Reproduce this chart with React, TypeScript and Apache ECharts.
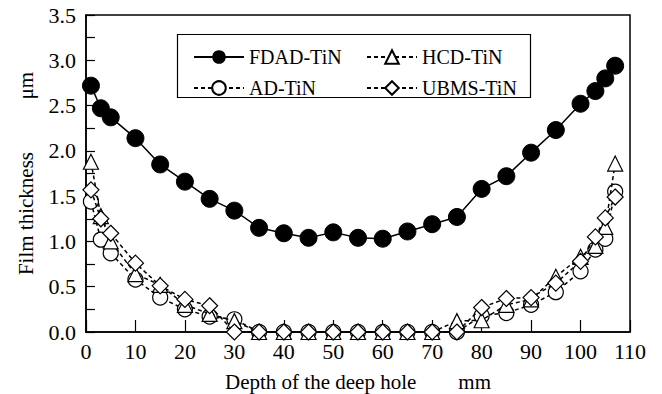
import React, { useEffect, useRef } from "react";
import * as echarts from "echarts";

const depth = [1, 3, 5, 10, 15, 20, 25, 30, 35, 40, 45, 50, 55, 60, 65, 70, 75, 80, 85, 90, 95, 100, 103, 105, 107];
const fdad = [2.72, 2.47, 2.37, 2.14, 1.85, 1.66, 1.47, 1.34, 1.15, 1.09, 1.04, 1.10, 1.04, 1.03, 1.11, 1.19, 1.27, 1.58, 1.72, 1.98, 2.23, 2.52, 2.66, 2.80, 2.94];
const ad = [1.44, 1.02, 0.87, 0.58, 0.38, 0.25, 0.17, 0.14, 0, 0, 0, 0, 0, 0, 0, 0, 0, 0.18, 0.21, 0.30, 0.44, 0.67, 0.91, 1.03, 1.55];
const hcd = [1.88, 1.28, 1.0, 0.64, 0.52, 0.30, 0.20, 0.12, 0, 0, 0, 0, 0, 0, 0, 0, 0.12, 0.13, 0.30, 0.36, 0.61, 0.83, 0.95, 1.16, 1.86];
const ubms = [1.57, 1.25, 1.09, 0.76, 0.51, 0.36, 0.29, 0, 0, 0, 0, 0, 0, 0, 0, 0, 0, 0.27, 0.37, 0.38, 0.54, 0.78, 1.05, 1.26, 1.49];
const seriesNames = ["FDAD-TiN", "AD-TiN", "HCD-TiN", "UBMS-TiN"];

const FONT = "'Liberation Serif', serif";

export default function App() {
  const ref = useRef<HTMLDivElement>(null);
  useEffect(() => {
    if (!ref.current) return;
    const chart = echarts.init(ref.current, null, { renderer: "svg" });
    const pair = (ys: number[]) => depth.map((x, i) => [x, ys[i]]);
    const dashed = { color: "#000", width: 1.5, type: [4, 3] as any };
    const openStyle = { color: "#fff", borderColor: "#000", borderWidth: 1.2 };
    const legendText = { fontFamily: FONT, fontSize: 20, color: "#000" };
    chart.setOption({
      animation: false,
      textStyle: { fontFamily: FONT },
      grid: {
        left: 86, right: 32, top: 15, bottom: 62,
        outerBoundsMode: "none",
        containLabel: false,
        show: true, borderColor: "#000", borderWidth: 1.5, backgroundColor: "transparent",
      },
      legend: [
        {
          data: [seriesNames[0], seriesNames[1]],
          orient: "vertical",
          left: 188,
          top: 42,
          itemWidth: 50,
          itemHeight: 17,
          itemGap: 11,
          textStyle: legendText,
        },
        {
          data: [seriesNames[2], seriesNames[3]],
          orient: "vertical",
          left: 361,
          top: 42,
          itemWidth: 50,
          itemHeight: 17,
          itemGap: 11,
          textStyle: legendText,
        },
      ],
      graphic: [
        { type: "rect", left: 175, top: 32, shape: { width: 353, height: 63 }, style: { fill: "none", stroke: "#000", lineWidth: 1.2 }, z: 10 },
      ],
      xAxis: {
        type: "value",
        min: 0,
        max: 110,
        interval: 10,
        name: "Depth of the deep hole        mm",
        nameLocation: "middle",
        nameGap: 39,
        nameMoveOverlap: false,
        nameTextStyle: { fontFamily: FONT, fontSize: 21, color: "#000" },
        axisLine: { lineStyle: { color: "#000", width: 1.5 } },
        axisTick: { inside: true, length: 12, lineStyle: { color: "#000", width: 1.2 } },
        axisLabel: { fontFamily: FONT, fontSize: 22, color: "#000", margin: 8 },
        splitLine: { show: false },
      },
      yAxis: {
        type: "value",
        min: 0,
        max: 3.5,
        interval: 0.5,
        name: "Film thickness          μm",
        nameLocation: "middle",
        nameGap: 50,
        nameMoveOverlap: false,
        nameTextStyle: { fontFamily: FONT, fontSize: 21, color: "#000" },
        axisLine: { show: true, lineStyle: { color: "#000", width: 1.5 } },
        axisTick: { inside: true, length: 9, lineStyle: { color: "#000", width: 1.2 } },
        minorTick: { show: true, splitNumber: 2, length: 9, lineStyle: { color: "#000", width: 1.2 } },
        axisLabel: { fontFamily: FONT, fontSize: 22, color: "#000", margin: 10, formatter: (v: number) => v.toFixed(1) },
        splitLine: { show: false },
      },
      series: [
        {
          name: seriesNames[0],
          type: "line",
          data: pair(fdad),
          symbol: "circle",
          symbolSize: 17,
          lineStyle: { color: "#000", width: 1.5 },
          itemStyle: { color: "#000", borderColor: "#000" },
          z: 5,
        },
        {
          name: seriesNames[1],
          type: "line",
          data: pair(ad),
          symbol: "circle",
          symbolSize: 15,
          lineStyle: dashed,
          itemStyle: openStyle,
          z: 2,
        },
        {
          name: seriesNames[2],
          type: "line",
          data: pair(hcd),
          symbol: "triangle",
          symbolSize: 15,
          lineStyle: dashed,
          itemStyle: openStyle,
          z: 3,
        },
        {
          name: seriesNames[3],
          type: "line",
          data: pair(ubms),
          symbol: "diamond",
          symbolSize: 16,
          lineStyle: dashed,
          itemStyle: openStyle,
          z: 4,
        },
      ],
    });
    return () => chart.dispose();
  }, []);
  return <div ref={ref} style={{ position: "absolute", left: 0, top: 0, width: 662, height: 394 }} />;
}
